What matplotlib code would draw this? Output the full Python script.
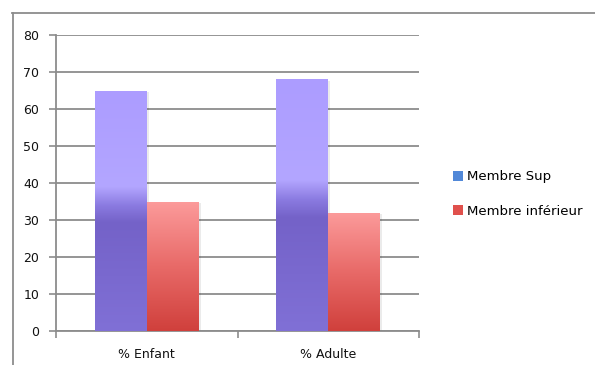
import numpy as np
import matplotlib.pyplot as plt
from matplotlib.colors import LinearSegmentedColormap
from matplotlib.patches import Patch
from matplotlib.lines import Line2D

categories = ['% Enfant', '% Adulte']
series_names = ['Membre Sup', 'Membre inférieur']
membre_sup = [65, 68]
membre_inf = [35, 32]
y_ticks = [0, 10, 20, 30, 40, 50, 60, 70, 80]

plt.rcParams['font.family'] = ['DejaVu Sans']

grey = '#8c8c8c'
purple_cmap = LinearSegmentedColormap.from_list(
    'sup', [(0.0, '#8070d6'), (0.45, '#7462c8'), (0.52, '#8a7ae0'),
            (0.6, '#b3a6ff'), (1.0, '#ac9cff')])
red_cmap = LinearSegmentedColormap.from_list(
    'inf', [(0.0, '#d0403c'), (0.5, '#e86a68'), (1.0, '#fc9b9b')])

fig = plt.figure(figsize=(5.95, 3.65), dpi=100)
ax = fig.add_axes([56 / 595, 1 - 331 / 365, (419 - 56) / 595, (331 - 35) / 365])

x = np.arange(len(categories))
width = 0.286
bars_sup = ax.bar(x - width / 2, membre_sup, width, color='none', zorder=3)
bars_inf = ax.bar(x + width / 2, membre_inf, width, color='none', zorder=3)

# fill every bar with a vertical gradient clipped to its rectangle
grad = np.linspace(0, 1, 256).reshape(-1, 1)
for bars, cmap in ((bars_sup, purple_cmap), (bars_inf, red_cmap)):
    for rect in bars:
        x0, w, h = rect.get_x(), rect.get_width(), rect.get_height()
        # soft shadow on the right side
        ax.bar(x0 + w / 2 + 0.012, h - 0.3, w, bottom=0, color='#000000',
               alpha=0.08, zorder=2)
        im = ax.imshow(grad, cmap=cmap, origin='lower', aspect='auto',
                       extent=(x0, x0 + w, 0, h), zorder=4)
        im.set_clip_path(rect)

ax.set_xlim(-0.5, len(categories) - 0.5)
ax.set_ylim(0, 80)
ax.set_yticks(y_ticks)
ax.set_xticks(x)
ax.set_xticklabels(categories)
ax.set_xticks([-0.5, 0.5, 1.5], minor=True)
ax.tick_params(axis='x', which='major', length=0, pad=12)
ax.tick_params(axis='x', which='minor', length=5, color=grey, width=1.2)
ax.tick_params(axis='y', length=5, color=grey, width=1.2, pad=7)
ax.tick_params(labelsize=9, labelcolor='#111111')

ax.yaxis.grid(True, color=grey, linewidth=1.3, zorder=0)
ax.set_axisbelow(True)
for side in ('top', 'right'):
    ax.spines[side].set_visible(False)
for side in ('left', 'bottom'):
    ax.spines[side].set_color(grey)
    ax.spines[side].set_linewidth(1.3)

handles = [Patch(facecolor='#5188d8', edgecolor='none'),
           Patch(facecolor='#e0504c', edgecolor='none')]
fig.legend(handles, series_names, loc='center left',
           bbox_to_anchor=(441 / 595, 1 - 194 / 365), frameon=False,
           fontsize=9.5, handlelength=0.75, handleheight=0.75,
           handletextpad=0.3, labelspacing=1.6)

# outer chart frame
fig.add_artist(Line2D([12.5 / 595, 12.5 / 595], [0, 1 - 13 / 365],
                      color=grey, linewidth=1.3, transform=fig.transFigure))
fig.add_artist(Line2D([12 / 595, 1], [1 - 13 / 365, 1 - 13 / 365],
                      color=grey, linewidth=1.3, transform=fig.transFigure))

fig.savefig('out.png', dpi=100)
